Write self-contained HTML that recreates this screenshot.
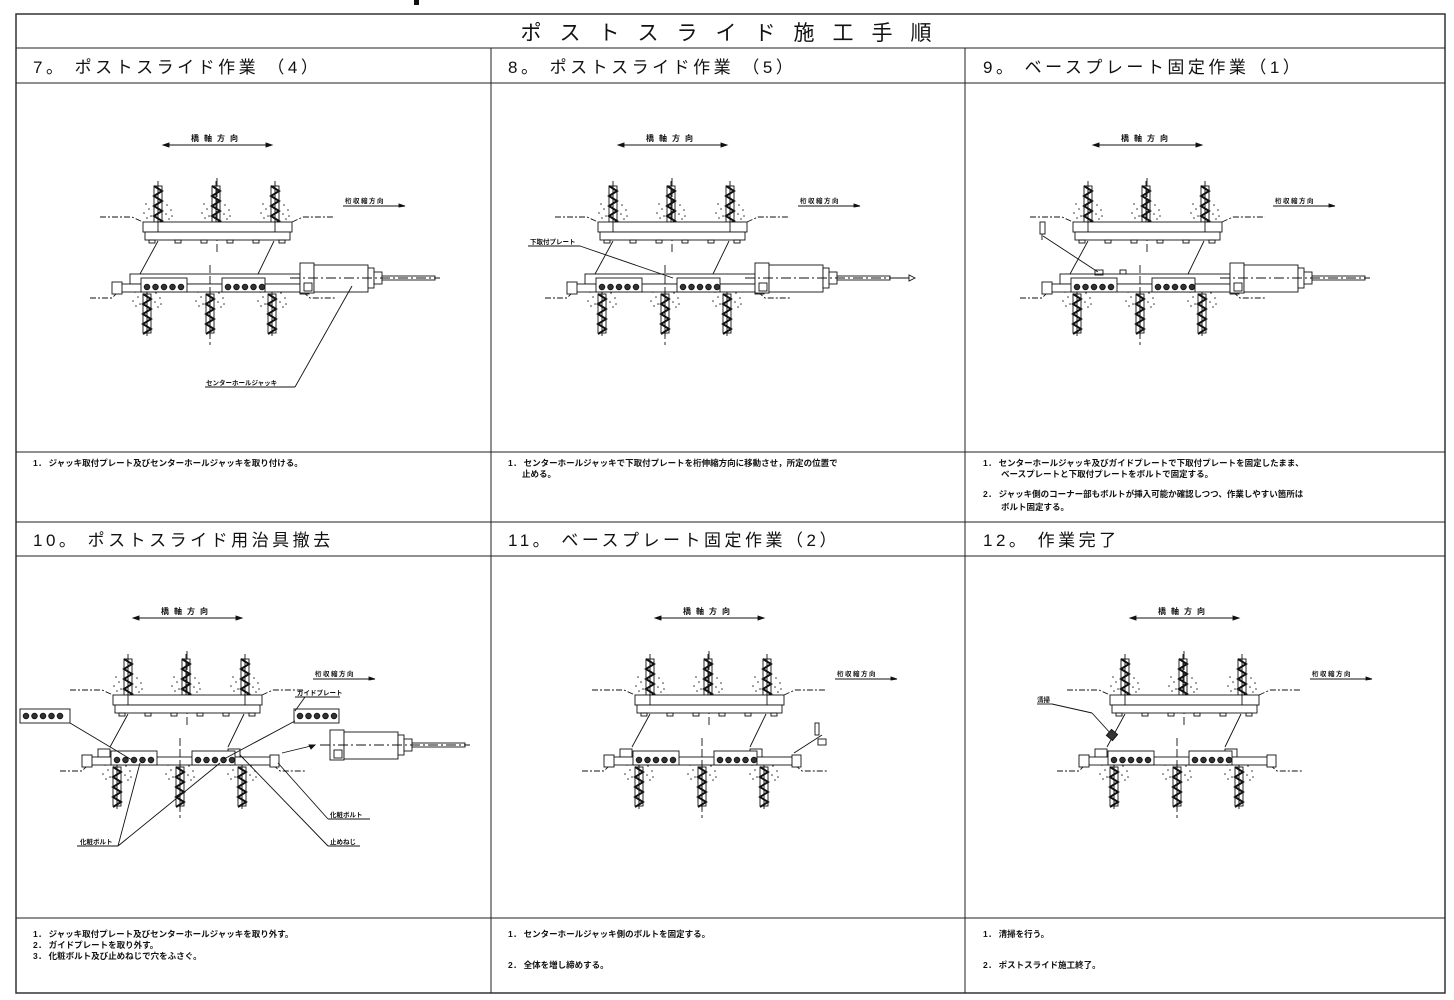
<!DOCTYPE html>
<html><head><meta charset="utf-8">
<style>
html,body{margin:0;padding:0;background:#fff;}
body{width:1454px;height:1000px;overflow:hidden;}
svg{display:block;}
.h{font-family:"Liberation Sans","Noto Sans CJK JP",sans-serif;font-size:17px;fill:#111;letter-spacing:3.5px;}
.t{font-family:"Liberation Sans","Noto Sans CJK JP",sans-serif;font-size:8.5px;font-weight:bold;fill:#111;}
.l{font-family:"Liberation Sans","Noto Sans CJK JP",sans-serif;font-size:6.5px;font-weight:bold;fill:#111;}
</style></head><body>
<svg id="s" width="1454" height="1000" xmlns="http://www.w3.org/2000/svg">
<rect x="0" y="0" width="1454" height="1000" fill="#fff"/>
<rect x="414" y="0" width="5" height="5" fill="#111"/>
<g stroke="#333" fill="none" stroke-width="1.5">
<rect x="16" y="14" width="1429" height="979"/>
</g>
<g stroke="#222" fill="none" stroke-width="1">
<line x1="16" y1="48" x2="1445" y2="48"/>
<line x1="16" y1="83" x2="1445" y2="83"/>
<line x1="16" y1="452" x2="1445" y2="452"/>
<line x1="16" y1="522" x2="1445" y2="522"/>
<line x1="16" y1="556" x2="1445" y2="556"/>
<line x1="16" y1="918" x2="1445" y2="918"/>
<line x1="491" y1="48" x2="491" y2="993"/>
<line x1="965" y1="48" x2="965" y2="993"/>
</g>
<text x="735" y="40" text-anchor="middle" class="h" style="font-size:21px;letter-spacing:18px">ポストスライド施工手順</text>
<text x="33" y="73" class="h">7。 ポストスライド作業 （4）</text>
<text x="508" y="73" class="h">8。 ポストスライド作業 （5）</text>
<text x="983" y="73" class="h">9。 ベースプレート固定作業（1）</text>
<text x="33" y="546" class="h">10。 ポストスライド用治具撤去</text>
<text x="508" y="546" class="h">11。 ベースプレート固定作業（2）</text>
<text x="983" y="546" class="h">12。 作業完了</text>

<text x="33" y="466" class="t">1． ジャッキ取付プレート及びセンターホールジャッキを取り付ける。</text>
<text x="508" y="466" class="t">1． センターホールジャッキで下取付プレートを桁伸縮方向に移動させ，所定の位置で</text>
<text x="522" y="477" class="t">止める。</text>
<text x="983" y="466" class="t">1． センターホールジャッキ及びガイドプレートで下取付プレートを固定したまま、</text>
<text x="1001" y="477" class="t">ベースプレートと下取付プレートをボルトで固定する。</text>
<text x="983" y="497" class="t">2． ジャッキ側のコーナー部もボルトが挿入可能か確認しつつ、作業しやすい箇所は</text>
<text x="1001" y="510" class="t">ボルト固定する。</text>
<text x="33" y="937" class="t">1． ジャッキ取付プレート及びセンターホールジャッキを取り外す。</text>
<text x="33" y="948" class="t">2． ガイドプレートを取り外す。</text>
<text x="33" y="959" class="t">3． 化粧ボルト及び止めねじで穴をふさぐ。</text>
<text x="508" y="937" class="t">1． センターホールジャッキ側のボルトを固定する。</text>
<text x="508" y="968" class="t">2． 全体を増し締めする。</text>
<text x="983" y="937" class="t">1． 清掃を行う。</text>
<text x="983" y="968" class="t">2． ポストスライド施工終了。</text>
<g id="d"></g>
</svg>
<script>
function anchor(x,y1,y2){
  var s='<rect x="'+(x-4)+'" y="'+y1+'" width="8" height="'+(y2-y1)+'" fill="#fff"/>';
  s+='<line x1="'+x+'" y1="'+(y1-5)+'" x2="'+x+'" y2="'+(y2+3)+'"/>';
  var p='M'+(x-4)+','+y1;var n=0;
  for(var yy=y1;yy<y2;yy+=5){n++;p+=' L'+(n%2?x+4:x-4)+','+(yy+5);}
  s+='<path d="'+p+'" stroke-width="2"/>';
  return s;
}
function dots(x,y){
  var s='';var pts=[[-12,-8],[-9,-3],[-14,1],[-7,4],[9,-7],[13,-2],[8,2],[14,4],[-11,6],[11,7]];
  for(var i=0;i<pts.length;i++)s+='<circle cx="'+(x+pts[i][0])+'" cy="'+(y+pts[i][1])+'" r="0.8" fill="#333" stroke="none"/>';
  return s;
}
function bolts(x,y,n){
  var s='';for(var i=0;i<n;i++)s+='<circle cx="'+(x+i*8.5)+'" cy="'+y+'" r="2.8" fill="#333"/>';return s;
}
function jack(x,y){
  var s='';
  s+='<rect x="'+(x)+'" y="'+(y-15)+'" width="14" height="30" fill="#fff"/>';
  s+='<rect x="'+(x+14)+'" y="'+(y-13)+'" width="54" height="27" fill="#fff"/>';
  s+='<rect x="'+(x+68)+'" y="'+(y-10)+'" width="6" height="20" fill="#fff"/>';
  s+='<rect x="'+(x+74)+'" y="'+(y-6)+'" width="8" height="12" fill="#fff"/>';
  s+='<rect x="'+(x+82)+'" y="'+(y-2)+'" width="53" height="4" fill="#fff"/>';
  s+='<line x1="'+(x-10)+'" y1="'+y+'" x2="'+(x+140)+'" y2="'+y+'" stroke-dasharray="10,3,2,3"/>';
  s+='<rect x="'+(x+4)+'" y="'+(y+5)+'" width="8" height="8" fill="#fff"/>';
  return s;
}
function diag(ox,oy,v){
  var s='<g transform="translate('+ox+','+oy+')" stroke="#111" fill="none" stroke-width="0.9">';
  s+='<line x1="163" y1="145" x2="272" y2="145"/><path d="M163,145 l6,-2 v4z M272,145 l-6,-2 v4z" fill="#111"/>';
  s+='<text x="217" y="141" text-anchor="middle" class="l" stroke="none" style="font-size:8px;letter-spacing:5px">橋軸方向</text>';
  s+='<text x="345" y="203" class="l" stroke="none" style="letter-spacing:1.5px">桁収縮方向</text>';
  s+='<line x1="343" y1="206" x2="405" y2="206"/><path d="M405,206 l-6,-2 v3z" fill="#111"/>';
  s+='<path d="M100,217 H132 L143,222" stroke-dasharray="6,2,2,2"/><path d="M292,222 L303,217 H335" stroke-dasharray="6,2,2,2"/>';
  s+='<path d="M90,298 H112 L118,292"  stroke-dasharray="6,2,2,2"/><path d="M303,292 L310,298 H335" stroke-dasharray="6,2,2,2"/>';
  [158,216,275].forEach(function(x){s+=dots(x,212)+anchor(x,186,222);});
  s+='<line x1="217" y1="178" x2="217" y2="252" stroke-dasharray="8,3"/>';
  s+='<rect x="143" y="222" width="149" height="10" fill="#fff"/><rect x="145" y="232" width="145" height="8" fill="#fff"/>';
  s+='<line x1="158" y1="222" x2="158" y2="232"/><line x1="275" y1="222" x2="275" y2="232"/>';
  [149,175,201,227,253,279].forEach(function(x){s+='<rect x="'+x+'" y="240" width="6" height="3"/>';});
  s+='<line x1="158" y1="241" x2="140" y2="274"/><line x1="274" y1="241" x2="258" y2="274"/>';
  [147,210,272].forEach(function(x){s+=dots(x,300)+anchor(x,294,333);});
  if(v.jig!==false) s+='<rect x="130" y="274" width="'+(v.jigw||170)+'" height="10" fill="#fff"/>';
  else s+='<rect x="128" y="276" width="12" height="8" fill="#fff"/><rect x="258" y="276" width="12" height="8" fill="#fff"/>';
  s+='<rect x="118" y="284" width="185" height="8" fill="#fff"/>';
  s+='<rect x="112" y="282" width="10" height="12" fill="#fff"/><rect x="300" y="282" width="9" height="12" fill="#fff"/>';
  if(v.boxes!==false){s+='<rect x="141" y="278" width="46" height="14" fill="#fff"/><rect x="222" y="278" width="43" height="14" fill="#fff"/>';}
  s+=bolts(147,287,5)+bolts(228,287,5);
  s+='<line x1="210" y1="265" x2="210" y2="345" stroke-dasharray="8,3"/>';
  if(v.jack) s+=jack(300,278);
  if(v.extra) s+=v.extra;
  s+='</g>';
  return s;
}
var L=function(x,y,t,x1,x2){return '<text x="'+x+'" y="'+y+'" class="l" stroke="none">'+t+'</text><line x1="'+x1+'" y1="'+(y+2)+'" x2="'+x2+'" y2="'+(y+2)+'"/>';};
var out='';
out+=diag(0,0,{jack:true,extra:L(206,385,'センターホールジャッキ',205,295)+'<line x1="295" y1="387" x2="352" y2="286"/>'});
out+=diag(455,0,{jack:true,jigw:170,extra:L(75,244,'下取付プレート',73,125)+'<line x1="125" y1="246" x2="218" y2="278"/><line x1="435" y1="278" x2="460" y2="278"/><path d="M460,278 l-6,-3 v6z" fill="#fff"/>'});
out+=diag(930,0,{jack:true,extra:'<rect x="110" y="222" width="5" height="12"/><line x1="112" y1="234" x2="112" y2="240"/><line x1="113" y1="236" x2="168" y2="272"/><rect x="165" y="270" width="8" height="5"/><rect x="190" y="270" width="6" height="4"/>'});
out+=diag(-30,473,{jack:false,jig:false,extra:
 '<rect x="50" y="236" width="50" height="14" fill="#fff"/>'+bolts(56,243,5)+'<line x1="100" y1="250" x2="162" y2="287"/>'+
 '<rect x="324" y="236" width="45" height="14" fill="#fff"/>'+bolts(330,243,5)+'<line x1="325" y1="248" x2="254" y2="286"/>'+
 L(327,222,'ガイドプレート',325,370)+'<line x1="335" y1="224" x2="325" y2="238"/>'+
 '<line x1="312" y1="280" x2="345" y2="272"/><path d="M345,272 l-6,0 l2,4z" fill="#111"/>'+
 jack(360,272)+
 L(110,371,'化粧ボルト',107,148)+'<line x1="148" y1="373" x2="170" y2="290"/><line x1="148" y1="373" x2="250" y2="290"/>'+
 L(360,344,'化粧ボルト',358,400)+'<line x1="358" y1="346" x2="308" y2="290"/>'+
 L(360,371,'止めねじ',358,390)+'<line x1="358" y1="373" x2="270" y2="282"/>'});
out+=diag(492,473,{jack:false,jig:false,extra:'<rect x="323" y="250" width="4" height="12"/><rect x="326" y="266" width="8" height="6"/><line x1="330" y1="262" x2="302" y2="280"/>'});
out+=diag(967,473,{jack:false,jig:false,extra:L(70,229,'清掃',70,85)+'<line x1="85" y1="231" x2="125" y2="240"/><line x1="125" y1="240" x2="145" y2="262"/><rect x="141" y="258" width="8" height="8" fill="#333" transform="rotate(40 145 262)"/>'});
document.getElementById('d').innerHTML=out;
</script>
</body></html>
